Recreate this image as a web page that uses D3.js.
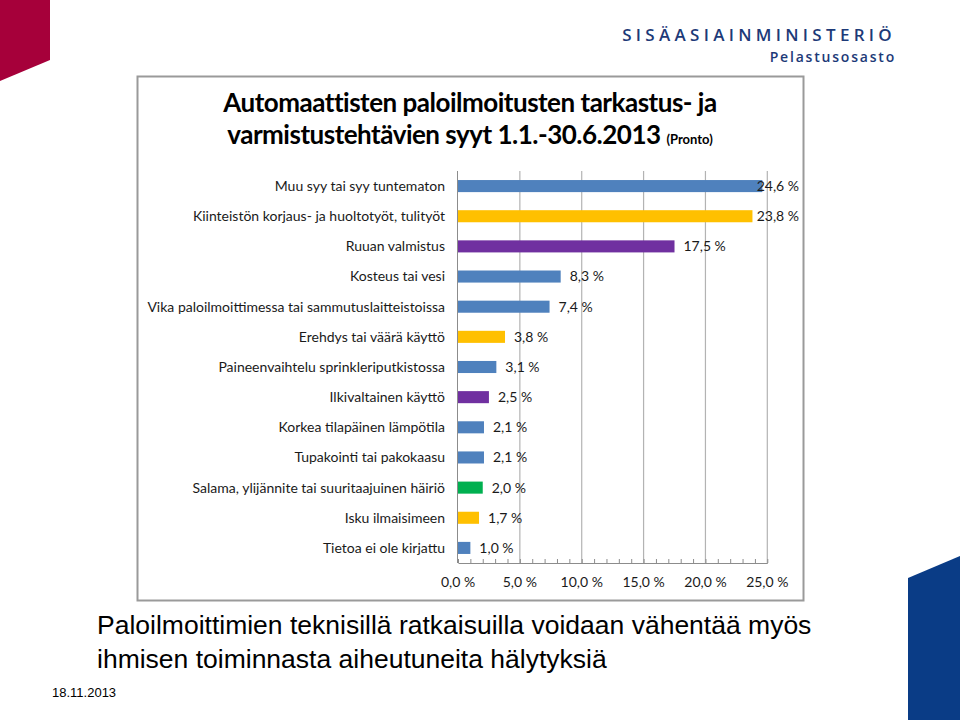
<!DOCTYPE html>
<html>
<head>
<meta charset="utf-8">
<script src="https://cdn.jsdelivr.net/npm/d3@7"></script>
<style>
  html, body { margin: 0; padding: 0; background: #fff; }
  svg { display: block; }
</style>
</head>
<body>
<svg id="slide" width="960" height="720"></svg>
<script>
// Causes of automatic fire alarm checks, 1.1.-30.6.2013 (share of all, %)
const categories = [
  "Muu syy tai syy tuntematon",
  "Kiinteistön korjaus- ja huoltotyöt, tulityöt",
  "Ruuan valmistus",
  "Kosteus tai vesi",
  "Vika paloilmoittimessa tai sammutuslaitteistoissa",
  "Erehdys tai väärä käyttö",
  "Paineenvaihtelu sprinkleriputkistossa",
  "Ilkivaltainen käyttö",
  "Korkea tilapäinen lämpötila",
  "Tupakointi tai pakokaasu",
  "Salama, ylijännite tai suuritaajuinen häiriö",
  "Isku ilmaisimeen",
  "Tietoa ei ole kirjattu"
];
const values = [24.6, 23.8, 17.5, 8.3, 7.4, 3.8, 3.1, 2.5, 2.1, 2.1, 2.0, 1.7, 1.0];
// colour group of each bar (as in the original slide)
const groups = ["muu", "työ", "ihminen", "muu", "muu", "työ", "muu",
                "ihminen", "muu", "muu", "ulkoinen", "työ", "muu"];
const xTicks = [0, 5, 10, 15, 20, 25];

const titleLines = [
  "Automaattisten paloilmoitusten tarkastus- ja",
  "varmistustehtävien syyt 1.1.-30.6.2013"
];
const titleNote = "(Pronto)";
const caption = [
  "Paloilmoittimien teknisillä ratkaisuilla voidaan vähentää myös",
  "ihmisen toiminnasta aiheutuneita hälytyksiä"
];
const dateText = "18.11.2013";

const svg = d3.select("#slide");
const fmt = (v) => d3.format(".1f")(v).replace(".", ",") + " %";
const font = "Lato, 'Open Sans', sans-serif";

// ---- slide decoration ----
svg.append("path")
  .attr("d", "M0,0 L50,0 L50,60 L0,81 Z")
  .attr("fill", "#a6003a");
svg.append("path")
  .attr("d", "M908,578 L960,556 L960,720 L908,720 Z")
  .attr("fill", "#0a3c86");

svg.append("text")
  .attr("x", 896).attr("y", 41)
  .attr("text-anchor", "end")
  .attr("font-family", "'Open Sans', sans-serif")
  .attr("font-size", 17).attr("font-weight", 600)
  .attr("letter-spacing", 4.3)
  .attr("fill", "#1d3a78")
  .text("SISÄASIAINMINISTERIÖ");
svg.append("text")
  .attr("x", 896).attr("y", 62)
  .attr("text-anchor", "end")
  .attr("font-family", "'Open Sans', sans-serif")
  .attr("font-size", 14).attr("font-weight", 600)
  .attr("letter-spacing", 1.8)
  .attr("fill", "#1d3a78")
  .text("Pelastusosasto");

// ---- chart frame ----
svg.append("rect")
  .attr("x", 137.5).attr("y", 76.5)
  .attr("width", 666).attr("height", 524)
  .attr("fill", "#fff")
  .attr("stroke", "#9a9a9a").attr("stroke-width", 2);

const title = svg.append("g")
  .attr("font-family", font).attr("font-weight", 700)
  .attr("fill", "#000").attr("text-anchor", "middle");
title.append("text").attr("x", 470).attr("y", 112)
  .attr("font-size", 26).attr("letter-spacing", -0.5)
  .text(titleLines[0]);
const t2 = title.append("text").attr("x", 470).attr("y", 144)
  .attr("font-size", 26).attr("letter-spacing", -0.5);
t2.append("tspan").text(titleLines[1] + " ");
t2.append("tspan").attr("font-size", 13).attr("letter-spacing", 0).text(titleNote);

// ---- plot ----
const plot = { left: 458, right: 767.3, top: 171, bottom: 563 };
const x = d3.scaleLinear().domain([0, 25]).range([plot.left, plot.right]);
const y = d3.scaleBand().domain(categories)
  .range([plot.top, plot.bottom]).paddingInner(0.6).paddingOuter(0.3);
const color = d3.scaleOrdinal()
  .domain(["muu", "työ", "ihminen", "ulkoinen"])
  .range(["#4f81bd", "#ffc000", "#7030a0", "#00b050"]);

const g = svg.append("g");

// vertical gridlines
g.append("g").selectAll("line")
  .data(xTicks.filter((d) => d > 0)).join("line")
  .attr("x1", (d) => x(d)).attr("x2", (d) => x(d))
  .attr("y1", plot.top).attr("y2", plot.bottom)
  .attr("stroke", "#b3b3b3").attr("stroke-width", 1.2);

// x axis with minor ticks
const xAxis = g.append("g")
  .attr("transform", `translate(0,${plot.bottom})`)
  .call(d3.axisBottom(x).tickValues(d3.range(0, 25.01, 1))
    .tickSize(-4).tickSizeOuter(0).tickFormat(() => ""));
xAxis.select(".domain").attr("stroke", "#8c8c8c");
xAxis.selectAll(".tick line").attr("stroke", "#8c8c8c");

g.append("g").selectAll("text")
  .data(xTicks).join("text")
  .attr("x", (d) => x(d)).attr("y", plot.bottom + 24)
  .attr("text-anchor", "middle")
  .attr("font-family", font).attr("font-size", 14).attr("fill", "#1a1a1a")
  .text(fmt);

// y axis line
g.append("line")
  .attr("x1", plot.left - 0.5).attr("x2", plot.left - 0.5)
  .attr("y1", plot.top).attr("y2", plot.bottom)
  .attr("stroke", "#8c8c8c");

// category labels
g.append("g").selectAll("text")
  .data(categories).join("text")
  .attr("x", 445).attr("y", (d) => y(d) + y.bandwidth() / 2)
  .attr("dy", "0.35em").attr("text-anchor", "end")
  .attr("font-family", font).attr("font-size", 14).attr("fill", "#1a1a1a")
  .text((d) => d);

// bars
g.append("g").selectAll("rect")
  .data(values).join("rect")
  .attr("x", plot.left)
  .attr("y", (d, i) => y(categories[i]))
  .attr("width", (d) => x(d) - plot.left)
  .attr("height", y.bandwidth())
  .attr("fill", (d, i) => color(groups[i]));

// value labels (clamped to the frame on the right)
const labelRight = 799;
g.append("g").selectAll("text")
  .data(values).join("text")
  .attr("y", (d, i) => y(categories[i]) + y.bandwidth() / 2)
  .attr("dy", "0.35em")
  .attr("font-family", font).attr("font-size", 14).attr("fill", "#1a1a1a")
  .text(fmt)
  .each(function (d) {
    const w = this.getComputedTextLength();
    const sx = Math.min(x(d) + 9, labelRight - w);
    d3.select(this).attr("x", sx);
  });

// ---- caption ----
svg.append("g")
  .attr("font-family", "'Liberation Sans', Arial, sans-serif")
  .attr("font-size", 26.5).attr("fill", "#000")
  .selectAll("text").data(caption).join("text")
  .attr("x", 97).attr("y", (d, i) => 634 + i * 34)
  .text((d) => d);

svg.append("text")
  .attr("x", 52).attr("y", 697)
  .attr("font-family", "'Liberation Sans', Arial, sans-serif")
  .attr("font-size", 13).attr("fill", "#000")
  .text(dateText);
</script>
</body>
</html>
